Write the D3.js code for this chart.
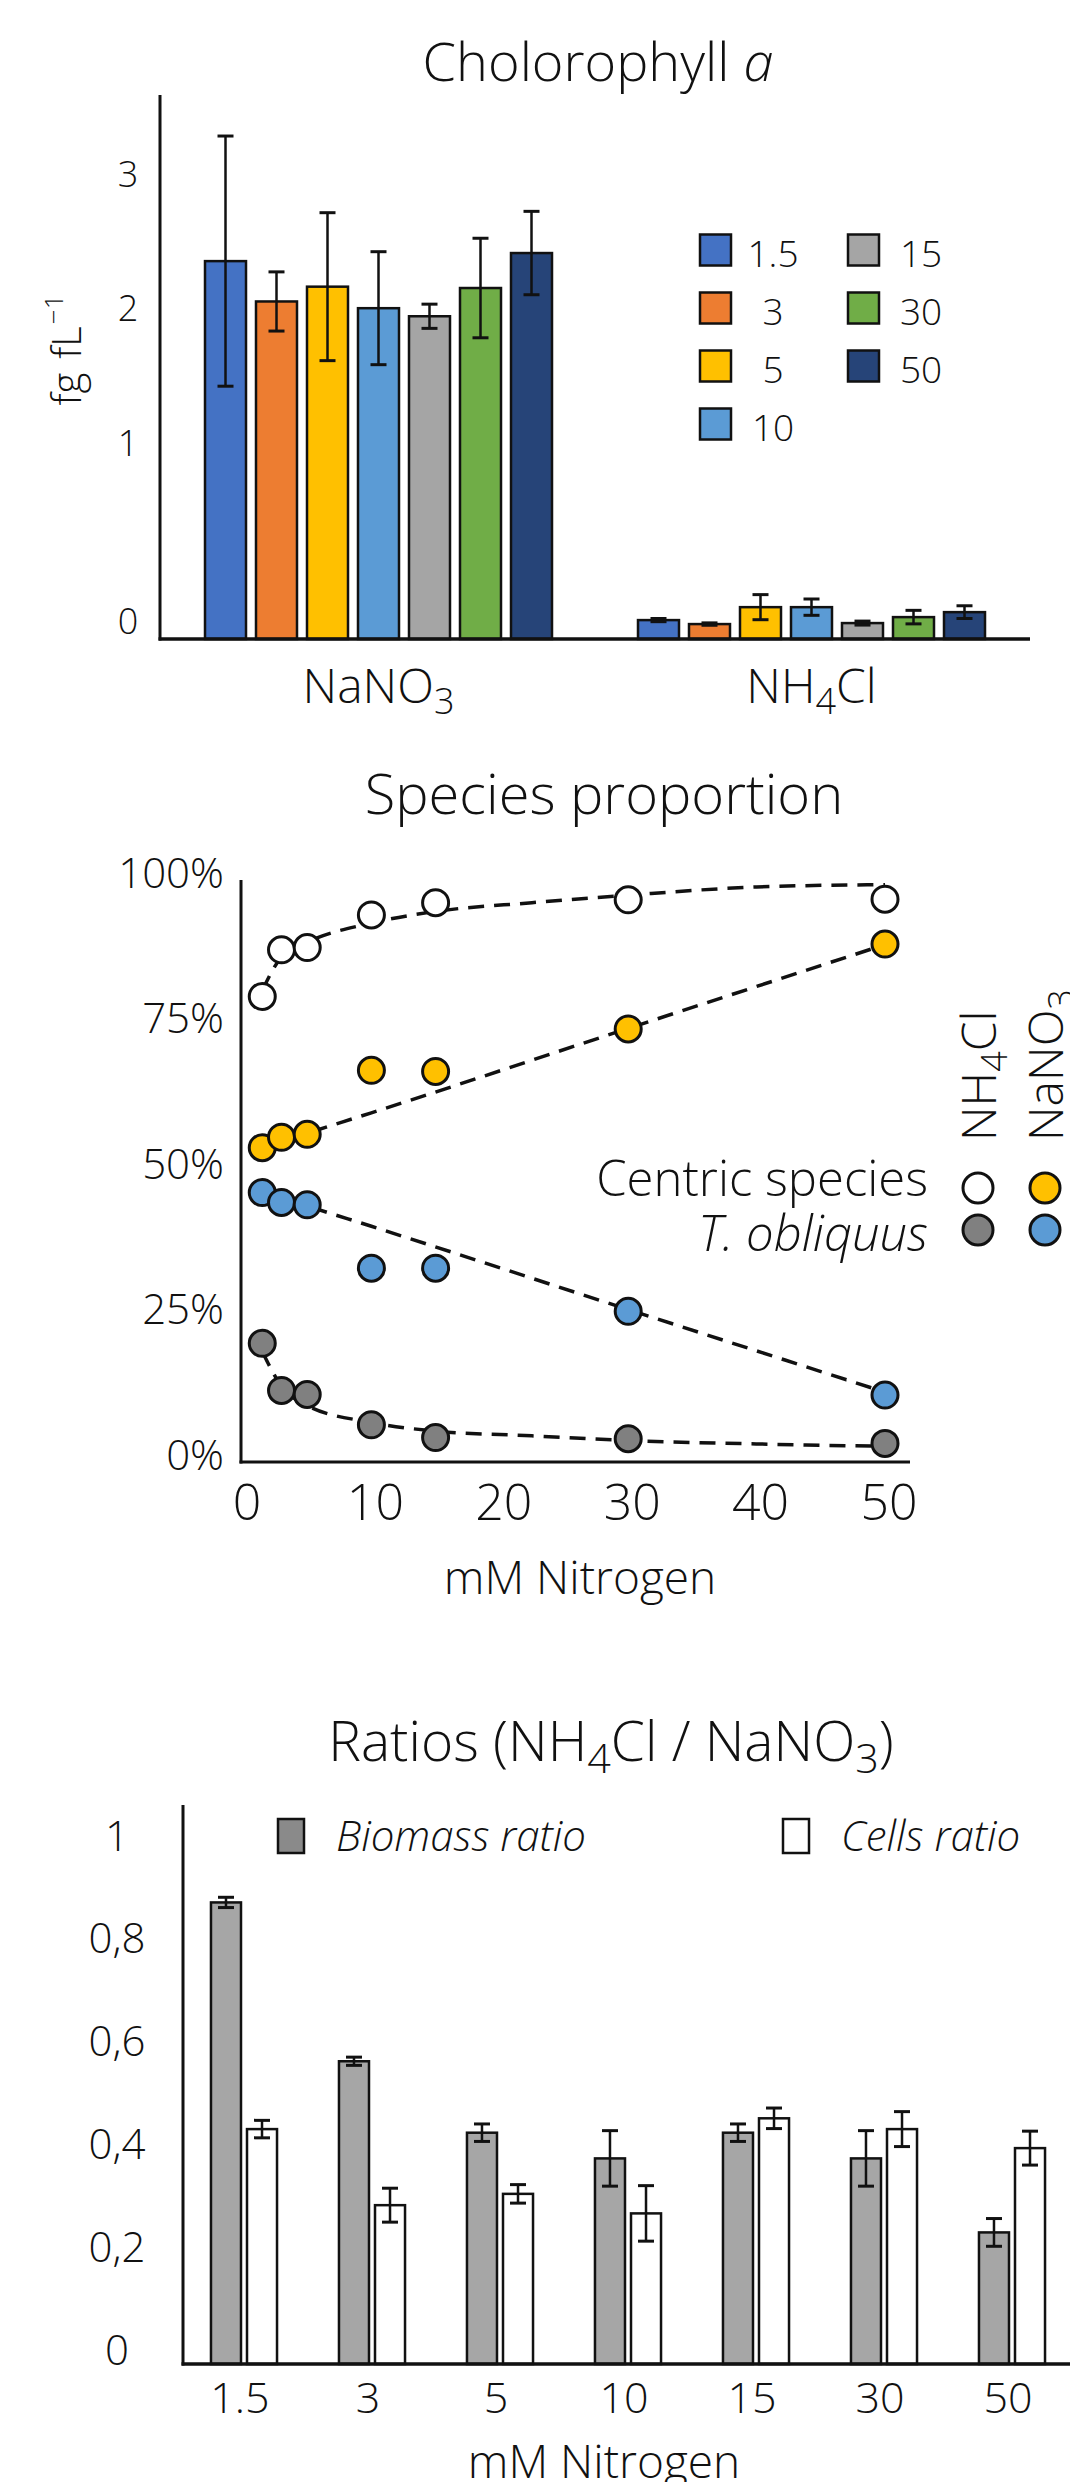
<!DOCTYPE html>
<html>
<head>
<meta charset="utf-8">
<script src="https://cdn.jsdelivr.net/npm/d3@7"></script>
<style>
body { margin: 0; background: #fff; }
svg text { font-family: "Open Sans", Roboto, sans-serif; font-weight: 300; fill: #111; }
</style>
</head>
<body>
<div id="chart"></div>
<script>
// ---- chlorophyll a (fg fL-1) ----
const concentrations = ["1.5", "3", "5", "10", "15", "30", "50"];
const concColors = ["#4472C4", "#ED7D31", "#FFC000", "#5B9BD5", "#A5A5A5", "#70AD47", "#264478"];
const chlGroups = ["NaNO_3", "NH_4Cl"];
const chlNaNO3 = [2.33, 2.03, 2.14, 1.98, 1.92, 2.13, 2.39];
const chlNaNO3Err = [0.93, 0.22, 0.55, 0.42, 0.09, 0.37, 0.31];
const chlNH4Cl = [0.095, 0.075, 0.16, 0.16, 0.08, 0.11, 0.135];
const chlNH4ClErr = [0.008, 0.006, 0.063, 0.041, 0.01, 0.034, 0.032];
const chlTicks = [0, 1, 2, 3];

// ---- species proportion ----
const nitrogen = [1.5, 3, 5, 10, 15, 30, 50];
const centricNH4Cl = [0.80, 0.88, 0.884, 0.94, 0.961, 0.966, 0.967];
const centricNaNO3 = [0.54, 0.558, 0.563, 0.673, 0.671, 0.744, 0.89];
const obliquusNaNO3 = [0.463, 0.446, 0.442, 0.333, 0.333, 0.259, 0.115];
const obliquusNH4Cl = [0.204, 0.123, 0.116, 0.064, 0.042, 0.04, 0.032];
// dashed trend lines
const trendCurveX = [1.5, 3, 5, 10, 15, 22.5, 30, 40, 50];
const trendCentricNH4Cl = [0.81, 0.868, 0.893, 0.926, 0.946, 0.961, 0.974, 0.988, 0.992];
const trendObliquusNH4Cl = [0.19, 0.13, 0.097, 0.068, 0.053, 0.045, 0.037, 0.031, 0.027];
const trendLineX = [1.5, 5, 10, 30, 50];
const trendCentricNaNO3 = [0.54, 0.565, 0.60, 0.745, 0.889];
const trendObliquusNaNO3 = [0.466, 0.44, 0.405, 0.262, 0.12];
const propTicksX = [0, 10, 20, 30, 40, 50];
const propTicksY = [0, 0.25, 0.5, 0.75, 1];

// ---- ratios NH4Cl / NaNO3 ----
const biomassRatio = [0.898, 0.589, 0.45, 0.40, 0.45, 0.40, 0.256];
const biomassErr = [0.01, 0.008, 0.017, 0.054, 0.017, 0.054, 0.027];
const cellsRatio = [0.457, 0.309, 0.331, 0.293, 0.478, 0.457, 0.42];
const cellsErr = [0.017, 0.033, 0.018, 0.054, 0.02, 0.034, 0.033];
const ratioTicks = [0, 0.2, 0.4, 0.6, 0.8, 1];

const W = 1070, H = 2482;
const svg = d3.select("#chart").append("svg")
    .attr("width", W).attr("height", H);

// write "NH_4Cl" style strings with subscripts; fs = font size of the text
function chem(sel, str, fs) {
    sel.attr("font-size", fs);
    str.split(/_(\d)/).forEach((part, i) => {
        if (!part) return;
        const t = sel.append("tspan").text(part);
        if (i % 2 === 1) t.attr("baseline-shift", `${-0.22 * fs}px`).attr("font-size", 0.75 * fs);
    });
    return sel;
}

function errorBar(g, x, yTop, yBot, cap) {
    g.append("line").attr("x1", x).attr("x2", x).attr("y1", yTop).attr("y2", yBot)
        .attr("stroke", "#111").attr("stroke-width", 2.5);
    [yTop, yBot].forEach(yy => {
        g.append("line").attr("x1", x - cap / 2).attr("x2", x + cap / 2).attr("y1", yy).attr("y2", yy)
            .attr("stroke", "#111").attr("stroke-width", 3);
    });
}

// ================= Chart 1 =================
const g1 = svg.append("g");
const y1 = d3.scaleLinear().domain([0, 1, 3]).range([639, 440, 171]);
const x0 = d3.scaleBand().domain(chlGroups).range([205, 985]).paddingInner(0.1986);
const x1 = d3.scaleBand().domain(concentrations).range([0, x0.bandwidth()]).paddingInner(0.196);

const chlData = [
    {group: chlGroups[0], vals: chlNaNO3, errs: chlNaNO3Err},
    {group: chlGroups[1], vals: chlNH4Cl, errs: chlNH4ClErr}
];
chlData.forEach(s => {
    s.vals.forEach((v, i) => {
        const bx = x0(s.group) + x1(concentrations[i]);
        g1.append("rect")
            .attr("x", bx).attr("y", y1(v))
            .attr("width", x1.bandwidth()).attr("height", y1(0) - y1(v))
            .attr("fill", concColors[i]).attr("stroke", "#111").attr("stroke-width", 2.5);
    });
    s.vals.forEach((v, i) => {
        const cx = x0(s.group) + x1(concentrations[i]) + x1.bandwidth() / 2;
        errorBar(g1, cx, y1(v + s.errs[i]), y1(v - s.errs[i]), 16);
    });
});

g1.append("line").attr("x1", 160).attr("x2", 160).attr("y1", 95).attr("y2", y1(0) + 1.5)
    .attr("stroke", "#111").attr("stroke-width", 3);
g1.append("line").attr("x1", 158.5).attr("x2", 1030).attr("y1", y1(0)).attr("y2", y1(0))
    .attr("stroke", "#111").attr("stroke-width", 3.5);

g1.selectAll(".ytick").data(chlTicks).join("text")
    .attr("x", 128).attr("y", d => y1(d) + (d === 0 ? -19 : 2))
    .attr("text-anchor", "middle").attr("dominant-baseline", "central")
    .attr("font-size", 36).text(d => d);

g1.selectAll(".xlab").data(chlGroups).join("text")
    .attr("x", d => x0(d) + x0.bandwidth() / 2).attr("y", 703)
    .attr("text-anchor", "middle")
    .each(function(d) { chem(d3.select(this), d, 48); });

const yl = g1.append("text")
    .attr("transform", "translate(81,350) rotate(-90)")
    .attr("text-anchor", "middle").attr("font-size", 40)
    .text("fg");
yl.append("tspan").attr("dx", 14).text("fL");
yl.append("tspan").attr("baseline-shift", "super").attr("font-size", 26).attr("dx", 2).text("−1");

const t1 = g1.append("text").attr("x", 598).attr("y", 81)
    .attr("text-anchor", "middle").attr("font-size", 54).text("Cholorophyll ");
t1.append("tspan").attr("font-style", "italic").text("a");

const leg1 = g1.selectAll(".leg").data(concentrations).join("g")
    .attr("transform", (d, i) => `translate(${700 + Math.floor(i / 4) * 148},${250 + (i % 4) * 58})`);
leg1.append("rect").attr("x", 0).attr("y", -15.5).attr("width", 31).attr("height", 31)
    .attr("fill", (d, i) => concColors[i]).attr("stroke", "#111").attr("stroke-width", 2.5);
leg1.append("text").attr("x", 73).attr("y", 2)
    .attr("text-anchor", "middle").attr("dominant-baseline", "central")
    .attr("font-size", 37).text(d => d);

// ================= Chart 2 =================
const g2 = svg.append("g");
const x2 = d3.scaleLinear().domain([0, 50]).range([243, 885]);
const y2 = d3.scaleLinear().domain([0, 1]).range([1462, 880]);

g2.append("text").attr("x", 604).attr("y", 814)
    .attr("text-anchor", "middle").attr("font-size", 56).text("Species proportion");

g2.append("line").attr("x1", 241).attr("x2", 241).attr("y1", y2(1)).attr("y2", y2(0) + 1.5)
    .attr("stroke", "#111").attr("stroke-width", 3);
g2.append("line").attr("x1", 239.5).attr("x2", 910).attr("y1", y2(0)).attr("y2", y2(0))
    .attr("stroke", "#111").attr("stroke-width", 3);

g2.selectAll(".ytick").data(propTicksY).join("text")
    .attr("x", 224).attr("y", d => y2(d) - 9)
    .attr("text-anchor", "end").attr("dominant-baseline", "central")
    .attr("font-size", 42).text(d3.format(".0%"));
g2.selectAll(".xtick").data(propTicksX).join("text")
    .attr("x", d => x2(d) + 4).attr("y", 1501)
    .attr("text-anchor", "middle").attr("dominant-baseline", "central")
    .attr("font-size", 50).text(d => d);
g2.append("text").attr("x", 580).attr("y", 1576)
    .attr("text-anchor", "middle").attr("dominant-baseline", "central")
    .attr("font-size", 46).text("mM Nitrogen");

const trends = [
    {xs: trendCurveX, ys: trendCentricNH4Cl},
    {xs: trendLineX, ys: trendCentricNaNO3},
    {xs: trendLineX, ys: trendObliquusNaNO3},
    {xs: trendCurveX, ys: trendObliquusNH4Cl}
];
const trendLine = d3.line().x(d => x2(d[0])).y(d => y2(d[1])).curve(d3.curveMonotoneX);
trends.forEach(t => {
    g2.append("path")
        .datum(t.xs.map((x, i) => [x, t.ys[i]]))
        .attr("d", trendLine)
        .attr("fill", "none").attr("stroke", "#111")
        .attr("stroke-width", 3.5).attr("stroke-dasharray", "16,10");
});

const pointSeries = [
    {vals: centricNH4Cl, color: "#fff"},
    {vals: centricNaNO3, color: "#FFC000"},
    {vals: obliquusNaNO3, color: "#5B9BD5"},
    {vals: obliquusNH4Cl, color: "#808080"}
];
pointSeries.forEach(s => {
    g2.selectAll(null).data(s.vals).join("circle")
        .attr("cx", (d, i) => x2(nitrogen[i])).attr("cy", d => y2(d))
        .attr("r", 13).attr("fill", s.color)
        .attr("stroke", "#111").attr("stroke-width", 3);
});

// legend
const legRows = ["Centric species", "T. obliquus"];
const legCols = ["NH_4Cl", "NaNO_3"];
const legColors = [["#fff", "#FFC000"], ["#808080", "#5B9BD5"]];
const legTextY = [1177, 1232];
const legRowY = [1188, 1230];
const legColX = [978, 1045];
legRows.forEach((r, ri) => {
    g2.append("text").attr("x", 928).attr("y", legTextY[ri])
        .attr("text-anchor", "end").attr("dominant-baseline", "central")
        .attr("font-size", 49).attr("font-style", ri === 1 ? "italic" : "normal").text(r);
    legCols.forEach((c, ci) => {
        g2.append("circle").attr("cx", legColX[ci]).attr("cy", legRowY[ri]).attr("r", 15)
            .attr("fill", legColors[ri][ci]).attr("stroke", "#111").attr("stroke-width", 3);
    });
});
legCols.forEach((c, ci) => {
    g2.append("text")
        .attr("transform", `translate(${legColX[ci] + 18},1141) rotate(-90)`)
        .attr("text-anchor", "start")
        .each(function() { chem(d3.select(this), c, 48); });
});

// ================= Chart 3 =================
const g3 = svg.append("g");
const x3 = d3.scaleBand().domain(concentrations).range([180, 1076]).paddingInner(0.484).paddingOuter(0.242);
const x3in = d3.scaleBand().domain(["biomass", "cells"]).range([0, x3.bandwidth()]).paddingInner(0.1667);
const y3 = d3.scaleLinear().domain([0, 1]).range([2364, 1850]);

g3.append("text").attr("x", 611).attr("y", 1761)
    .attr("text-anchor", "middle")
    .each(function() { chem(d3.select(this), "Ratios (NH_4Cl / NaNO_3)", 55); });

const ratioSeries = [
    {key: "biomass", vals: biomassRatio, errs: biomassErr, fill: "#A6A6A6"},
    {key: "cells", vals: cellsRatio, errs: cellsErr, fill: "#fff"}
];
ratioSeries.forEach(s => {
    s.vals.forEach((v, i) => {
        g3.append("rect")
            .attr("x", x3(concentrations[i]) + x3in(s.key)).attr("y", y3(v))
            .attr("width", x3in.bandwidth()).attr("height", y3(0) - y3(v))
            .attr("fill", s.fill).attr("stroke", "#111").attr("stroke-width", 2.5);
    });
});
ratioSeries.forEach(s => {
    s.vals.forEach((v, i) => {
        const cx = x3(concentrations[i]) + x3in(s.key) + x3in.bandwidth() / 2;
        errorBar(g3, cx, y3(v + s.errs[i]), y3(v - s.errs[i]), 16);
    });
});

g3.append("line").attr("x1", 183).attr("x2", 183).attr("y1", 1805).attr("y2", y3(0) + 1.5)
    .attr("stroke", "#111").attr("stroke-width", 3);
g3.append("line").attr("x1", 181.5).attr("x2", W).attr("y1", y3(0)).attr("y2", y3(0))
    .attr("stroke", "#111").attr("stroke-width", 3.5);

g3.selectAll(".ytick").data(ratioTicks).join("text")
    .attr("x", 117).attr("y", d => y3(d) - 16)
    .attr("text-anchor", "middle").attr("dominant-baseline", "central")
    .attr("font-size", 42).text(d => String(d).replace(".", ","));
g3.selectAll(".xtick").data(concentrations).join("text")
    .attr("x", d => x3(d) + x3.bandwidth() / 2 - 4).attr("y", 2396)
    .attr("text-anchor", "middle").attr("dominant-baseline", "central")
    .attr("font-size", 43).text(d => d);
g3.append("text").attr("x", 604).attr("y", 2460)
    .attr("text-anchor", "middle").attr("dominant-baseline", "central")
    .attr("font-size", 46).text("mM Nitrogen");

const leg3 = [
    {label: "Biomass ratio", fill: "#8a8a8a", x: 278},
    {label: "Cells ratio", fill: "#fff", x: 783}
];
leg3.forEach(l => {
    g3.append("rect").attr("x", l.x).attr("y", 1819).attr("width", 26).attr("height", 34)
        .attr("fill", l.fill).attr("stroke", "#111").attr("stroke-width", 2.5);
    g3.append("text").attr("x", l.x + 58).attr("y", 1834)
        .attr("dominant-baseline", "central").attr("font-style", "italic")
        .attr("font-size", 42).text(l.label);
});
</script>
</body>
</html>
